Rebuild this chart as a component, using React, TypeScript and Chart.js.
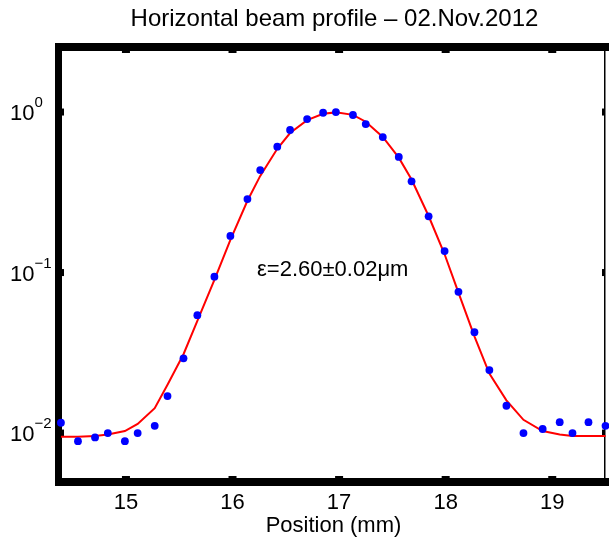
import { useEffect, useRef } from 'react';
import { Chart, registerables } from 'chart.js';

Chart.register(...registerables);

const TITLE = 'Horizontal beam profile – 02.Nov.2012';
const X_LABEL = 'Position (mm)';
const ANNOTATION = 'ε=2.60±0.02μm';
const ANNOTATION_X = 16.23;
const ANNOTATION_Y = 0.104;

const positions = [
  14.39, 14.55, 14.71, 14.83, 14.99, 15.11, 15.27, 15.39, 15.54, 15.67, 15.83, 15.98,
  16.14, 16.26, 16.42, 16.54, 16.7, 16.85, 16.97, 17.13, 17.25, 17.41, 17.56, 17.68,
  17.84, 17.99, 18.12, 18.27, 18.41, 18.57, 18.73, 18.91, 19.07, 19.19, 19.34, 19.5,
];
const measured = [
  0.0116, 0.0089, 0.0094, 0.01, 0.0089, 0.01, 0.0111, 0.017, 0.0292, 0.0543, 0.0942, 0.169,
  0.287, 0.435, 0.608, 0.773, 0.904, 0.99, 1.0, 0.958, 0.841, 0.698, 0.525, 0.37,
  0.224, 0.136, 0.0758, 0.0425, 0.0247, 0.0148, 0.01, 0.0106, 0.0117, 0.01, 0.0117, 0.0111,
];
const fitted = [
  0.0095, 0.0095, 0.0096, 0.0098, 0.0103, 0.0114, 0.0143, 0.02, 0.031, 0.05, 0.09, 0.16,
  0.28, 0.4, 0.59, 0.74, 0.89, 0.975, 0.995, 0.96, 0.87, 0.7, 0.52, 0.38,
  0.225, 0.13, 0.075, 0.04, 0.0235, 0.016, 0.0121, 0.0103, 0.0098, 0.0096, 0.0096, 0.0096,
];
const xTicks = [15, 16, 17, 18, 19];
const yTicks = [0.01, 0.1, 1];
const yTickBase = '10';
const yTickExponents = ['−2', '−1', '0'];

const X_MIN = 14.4;
const X_MAX = 19.495;
const Y_MIN = 0.00525;
const Y_MAX = 2.4;

const FONT = '"Liberation Sans", Arial, Helvetica, sans-serif';

const framePlugin = {
  id: 'matlabFrame',
  beforeDatasetsDraw(chart: any) {
    const { ctx, chartArea: a, scales } = chart;
    const xs = scales.x;
    const ys = scales.y;
    ctx.save();
    ctx.fillStyle = '#000';
    const w = 609;
    ctx.fillRect(a.left - 7, a.top - 8, w - (a.left - 7), 8);
    ctx.fillRect(a.left - 7, a.bottom, w - (a.left - 7), 8);
    ctx.fillRect(a.left - 7, a.top - 8, 7, a.bottom - a.top + 16);
    ctx.fillRect(a.right - 1, a.top, 1.5, a.bottom - a.top);
    for (const v of xTicks) {
      const px = xs.getPixelForValue(v);
      ctx.fillRect(px - 4, a.top, 8, 2);
      ctx.fillRect(px - 4, a.bottom - 2, 8, 2);
    }
    for (const v of yTicks) {
      const py = ys.getPixelForValue(v);
      ctx.fillRect(a.left, py - 3.5, 2, 7);
      ctx.fillRect(a.right - 3, py - 3.5, 2, 7);
    }
    ctx.restore();
  },
  afterDraw(chart: any) {
    const { ctx, chartArea: a, scales } = chart;
    const xs = scales.x;
    const ys = scales.y;
    ctx.save();
    ctx.fillStyle = '#000';
    ctx.textBaseline = 'alphabetic';
    ctx.textAlign = 'center';
    ctx.font = `24px ${FONT}`;
    ctx.fillText(TITLE, (a.left + a.right) / 2 + 1, 26);
    ctx.font = `22px ${FONT}`;
    for (const v of xTicks) {
      ctx.fillText(String(v), xs.getPixelForValue(v), a.bottom + 31);
    }
    ctx.fillText(X_LABEL, (a.left + a.right) / 2, a.bottom + 54);
    ctx.textAlign = 'left';
    yTicks.forEach((v, i) => {
      const py = ys.getPixelForValue(v);
      ctx.font = `22px ${FONT}`;
      ctx.fillText(yTickBase, 10, py + 8);
      const bw = ctx.measureText(yTickBase).width;
      ctx.font = `15px ${FONT}`;
      ctx.fillText(yTickExponents[i], 10 + bw, py - 5);
    });
    ctx.font = `22px ${FONT}`;
    ctx.textBaseline = 'middle';
    ctx.fillText(ANNOTATION, xs.getPixelForValue(ANNOTATION_X), ys.getPixelForValue(ANNOTATION_Y));
    ctx.restore();
  },
};

export default function App() {
  const ref = useRef<HTMLCanvasElement | null>(null);
  useEffect(() => {
    if (!ref.current) return;
    const chart = new Chart(ref.current, {
      type: 'scatter',
      data: {
        datasets: [
          {
            label: 'fit',
            data: positions.map((x, i) => ({ x, y: fitted[i] })),
            showLine: true,
            borderColor: '#ff0000',
            borderWidth: 2,
            pointRadius: 0,
            tension: 0,
            clip: false,
            order: 2,
          },
          {
            label: 'measured',
            data: positions.map((x, i) => ({ x, y: measured[i] })),
            showLine: false,
            backgroundColor: '#0000ff',
            borderWidth: 0,
            pointRadius: 3.9,
            clip: false,
            order: 1,
          },
        ],
      },
      options: {
        responsive: false,
        animation: false,
        devicePixelRatio: 1,
        layout: { padding: { left: 62, right: 1, top: 51, bottom: 60 } },
        plugins: {
          legend: { display: false },
          title: { display: false },
          tooltip: { enabled: false },
        },
        scales: {
          x: { type: 'linear', display: false, min: X_MIN, max: X_MAX },
          y: { type: 'logarithmic', display: false, min: Y_MIN, max: Y_MAX },
        },
      },
      plugins: [framePlugin],
    });
    return () => chart.destroy();
  }, []);
  return (
    <canvas
      ref={ref}
      width={609}
      height={538}
      style={{ position: 'absolute', left: 0, top: 0, display: 'block', background: '#fff' }}
    />
  );
}
